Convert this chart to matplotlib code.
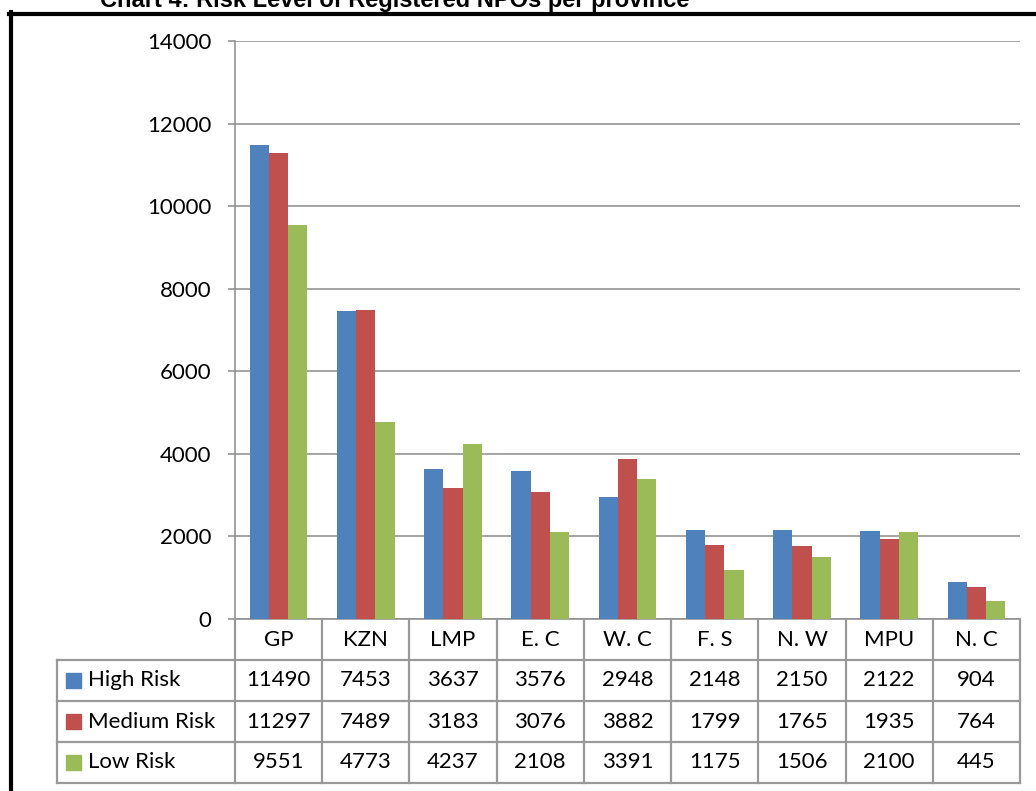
import matplotlib
matplotlib.use("Agg")
import matplotlib.pyplot as plt
from matplotlib.patches import Rectangle
from matplotlib.lines import Line2D

# ---- data ----
provinces = ["GP", "KZN", "LMP", "E. C", "W. C", "F. S", "N. W", "MPU", "N. C"]
series_names = ["High Risk", "Medium Risk", "Low Risk"]
high_risk = [11490, 7453, 3637, 3576, 2948, 2148, 2150, 2122, 904]
medium_risk = [11297, 7489, 3183, 3076, 3882, 1799, 1765, 1935, 764]
low_risk = [9551, 4773, 4237, 2108, 3391, 1175, 1506, 2100, 445]
y_ticks = [0, 2000, 4000, 6000, 8000, 10000, 12000, 14000]
title = "Chart 4: Risk Level of Registered NPOs per province"

colors = ["#4F81BD", "#C0504D", "#9BBB59"]
grid_col = "#8c8c8c"
table_col = "#999999"
font = "Lato"

W, H = 1036, 791
fig = plt.figure(figsize=(W / 100, H / 100), dpi=100)
fig.patch.set_facecolor("white")

# pixel layout of the plot area
x_left, x_right = 235, 1020
y_top, y_zero = 41, 619
tab_left, tab_bottom = 57, 783

ax = fig.add_axes([x_left / W, 1 - y_zero / H, (x_right - x_left) / W, (y_zero - y_top) / H])
series = [high_risk, medium_risk, low_risk]
bw = 0.22
for i, vals in enumerate(series):
    xs = [k + (i - 1) * bw for k in range(len(provinces))]
    ax.bar(xs, vals, width=bw, color=colors[i], zorder=3)

ax.set_xlim(-0.5, len(provinces) - 0.5)
ax.set_ylim(0, 14000)
ax.set_yticks(y_ticks)
ax.set_yticklabels([str(t) for t in y_ticks], fontsize=16, family=font)
ax.set_xticks([])
ax.tick_params(axis="y", length=5, width=1.1, color=grid_col, pad=12)
ax.yaxis.grid(True, color=grid_col, lw=1.1, zorder=0)
for s in ["top", "right"]:
    ax.spines[s].set_visible(False)
for s in ["left", "bottom"]:
    ax.spines[s].set_color(grid_col)
    ax.spines[s].set_linewidth(1.1)

# ---- data table below the chart ----
cat_px = (x_right - x_left) / len(provinces)
lab_w = (x_left - tab_left) / cat_px
tax = fig.add_axes([tab_left / W, 1 - tab_bottom / H, (x_right - tab_left) / W, (tab_bottom - y_zero) / H])
x0 = -0.5 - lab_w
x1 = len(provinces) - 0.5
tax.set_xlim(x0, x1)
tax.set_ylim(0, 4)
tax.axis("off")

lw = 1.6
for yy in [0, 1, 2, 3]:
    tax.plot([x0, x1], [yy, yy], color=table_col, lw=lw, clip_on=False)
tax.plot([x0, x0], [0, 3], color=table_col, lw=lw, clip_on=False)
for k in range(len(provinces) + 1):
    tax.plot([k - 0.5, k - 0.5], [0, 4], color=table_col, lw=lw, clip_on=False)

for k, p in enumerate(provinces):
    tax.text(k, 3.5, p, ha="center", va="center", fontsize=16, family=font)

row_px = (tab_bottom - y_zero) / 4
for i, (name, vals) in enumerate(zip(series_names, series)):
    yc = 2.5 - i
    sq = 15
    tax.add_patch(Rectangle((x0 + 9 / cat_px, yc - sq / 2 / row_px), sq / cat_px, sq / row_px,
                            color=colors[i], clip_on=False))
    tax.text(x0 + 31 / cat_px, yc, name, ha="left", va="center", fontsize=16, family=font)
    for k, v in enumerate(vals):
        tax.text(k, yc, str(v), ha="center", va="center", fontsize=16, family=font)

# ---- frame and title (cut off at the top like the source) ----
fig.add_artist(Line2D([11 / W, 11 / W], [0, 1 - 12 / H], transform=fig.transFigure, color="black", lw=3))
fig.add_artist(Line2D([9 / W, 1], [1 - 14 / H, 1 - 14 / H], transform=fig.transFigure, color="black", lw=3))
fig.text(100 / W, 1 - 7 / H, title, ha="left", va="baseline", fontsize=17,
         weight="bold", family="Liberation Sans")

fig.savefig("out.png", dpi=100)
